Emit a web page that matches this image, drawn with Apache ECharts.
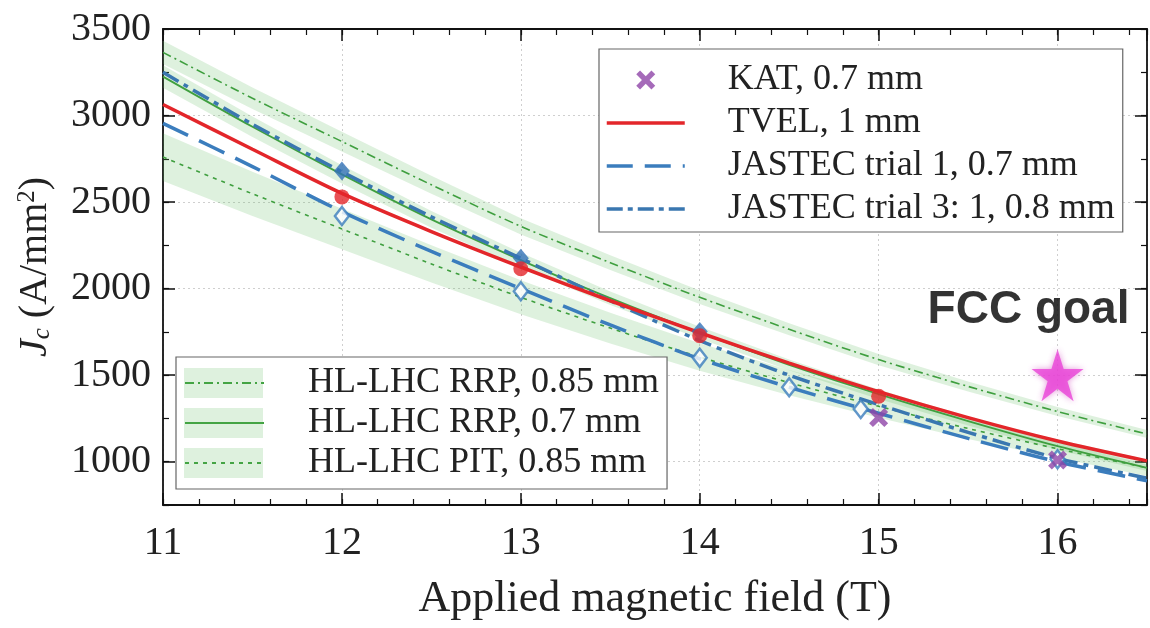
<!DOCTYPE html>
<html>
<head>
<meta charset="utf-8">
<script src="https://cdn.jsdelivr.net/npm/echarts@6.0.0/dist/echarts.min.js"></script>
<style>
html, body { margin: 0; padding: 0; background: #fff; }
#chart { width: 1150px; height: 628px; }
</style>
</head>
<body>
<div id="chart"></div>
<script>
// field values (T) where the fitted curves were read
var fields = [11, 11.5, 12, 12.5, 13, 13.5, 14, 14.5, 15, 15.5, 16, 16.5];

// HL-LHC reference curves and their bands (A/mm2)
var rrp085 = [3365, 3100, 2850, 2600, 2360, 2150, 1950, 1765, 1590, 1435, 1290, 1160];
var rrp085Low = [3298, 3038, 2793, 2548, 2313, 2107, 1911, 1730, 1558, 1406, 1264, 1137];
var rrp085High = [3432, 3162, 2907, 2652, 2407, 2193, 1989, 1800, 1622, 1464, 1316, 1183];

var rrp07 = [3225, 2935, 2660, 2400, 2165, 1945, 1745, 1560, 1390, 1235, 1090, 965];
var rrp07Low = [3160, 2876, 2607, 2352, 2122, 1906, 1710, 1529, 1362, 1210, 1068, 946];
var rrp07High = [3290, 2994, 2713, 2448, 2208, 1984, 1780, 1591, 1418, 1260, 1112, 984];

var pit085 = [2760, 2548, 2345, 2143, 1950, 1772, 1605, 1457, 1320, 1192, 1075, 965];
var pit085Low = [2622, 2420, 2228, 2036, 1852, 1683, 1525, 1384, 1254, 1132, 1021, 917];
var pit085High = [2898, 2676, 2462, 2250, 2048, 1861, 1685, 1530, 1386, 1252, 1129, 1013];

// conductor fits
var tvelFit = [3064, 2805, 2550, 2330, 2125, 1930, 1745, 1570, 1405, 1255, 1120, 1005];
var jastec1Fit = [2955, 2705, 2445, 2215, 2000, 1790, 1595, 1430, 1280, 1135, 1000, 890];
var jastec3Fit = [3250, 2950, 2675, 2415, 2175, 1930, 1700, 1500, 1330, 1170, 1020, 905];

// measured points [field, Jc]
var tvelPts = [[12, 2530], [13, 2115], [14, 1728], [15, 1378]];
var jastec1Pts = [[12, 2420], [13, 1985], [14, 1600], [14.5, 1430], [14.9, 1305], [16, 1015]];
var jastec3Pts = [[12, 2680], [13, 2175], [14, 1752]];
var katPts = [[15, 1255], [16, 1010]];
var fccGoal = [[16, 1500]];

var names = {
	kat: 'KAT, 0.7 mm',
	tvel: 'TVEL, 1 mm',
	j1: 'JASTEC trial 1, 0.7 mm',
	j3: 'JASTEC trial 3: 1, 0.8 mm',
	rrp085: 'HL-LHC RRP, 0.85 mm',
	rrp07: 'HL-LHC RRP, 0.7 mm',
	pit: 'HL-LHC PIT, 0.85 mm'
};

var serif = 'Liberation Serif';
var green = '#3f9f3f';
var bandColor = 'rgba(90,185,90,0.2)';
var blue = '#3b7dbd';
var blue3 = '#3a77b0';
var red = '#e3262a';
var purple = '#8f45a8';

var xMark = 'path://M0,2 L2,0 L5,3 L8,0 L10,2 L7,5 L10,8 L8,10 L5,7 L2,10 L0,8 L3,5 Z';
var star = 'path://M50,0 L61.2,34.6 L97.6,34.5 L68.1,55.9 L79.4,90.5 L50,69 L20.6,90.5 L31.9,55.9 L2.4,34.5 L38.8,34.6 Z';

function pairs(ys) {
	return fields.map(function (f, i) { return [f, ys[i]]; });
}

// shaded band between lo and hi, drawn as one polygon through the axes
function band(lo, hi) {
	return {
		type: 'custom', silent: true, z: 1, clip: true,
		data: [[fields[0], lo[0]]],
		encode: { x: 0, y: 1 },
		renderItem: function (params, api) {
			var pts = [];
			for (var i = 0; i < fields.length; i++) {
				pts.push(api.coord([fields[i], hi[i]]));
			}
			for (var j = fields.length - 1; j >= 0; j--) {
				pts.push(api.coord([fields[j], lo[j]]));
			}
			return { type: 'polygon', shape: { points: pts }, style: { fill: bandColor } };
		}
	};
}

function fitLine(name, ys, color, width, type) {
	return {
		name: name, type: 'line', data: pairs(ys), smooth: 0.3, symbol: 'none',
		lineStyle: { color: color, width: width, type: type }, itemStyle: { color: color }, z: 2
	};
}

var series = [];
series.push(band(rrp085Low, rrp085High));
series.push(band(rrp07Low, rrp07High));
series.push(band(pit085Low, pit085High));
series.push(fitLine(names.rrp085, rrp085, green, 1.6, [9, 4, 2, 4]));
series.push(fitLine(names.rrp07, rrp07, green, 1.8, 'solid'));
series.push(fitLine(names.pit, pit085, green, 1.6, [4, 5]));
series.push(fitLine(names.j3, jastec3Fit, blue3, 3.5, [18, 6, 5, 6]));
series.push(fitLine(names.j1, jastec1Fit, blue, 3.5, [28, 12]));
series.push(fitLine(names.tvel, tvelFit, red, 3.5, 'solid'));
series.push({
	name: 'jastec3 pts', type: 'scatter', data: jastec3Pts, symbol: 'diamond', symbolSize: [16, 19],
	itemStyle: { color: '#3372b8' }, z: 3
});
series.push({
	name: 'jastec1 pts', type: 'scatter', data: jastec1Pts, symbol: 'diamond', symbolSize: [14, 18],
	itemStyle: { color: '#fff', borderColor: blue, borderWidth: 2.5 }, z: 3
});
series.push({
	name: 'tvel pts', type: 'scatter', data: tvelPts, symbol: 'circle', symbolSize: 15,
	itemStyle: { color: red }, z: 4
});
series.push({
	name: names.kat, type: 'scatter', data: katPts, symbol: xMark, symbolSize: 19,
	itemStyle: { color: purple }, z: 4
});
series.push({
	name: 'FCC goal', type: 'scatter', data: fccGoal, symbol: star, symbolSize: 52,
	itemStyle: { color: '#ea44d8', shadowBlur: 6, shadowColor: 'rgba(200,40,180,0.6)' },
	label: {
		show: true, position: 'top', distance: 16, offset: [-29, 0], formatter: 'FCC goal',
		fontFamily: 'Liberation Sans', fontWeight: 'bold', fontSize: 46, color: '#000'
	},
	z: 5
});

var tickMain = { show: true, inside: true, length: 12, lineStyle: { color: '#111', width: 1.5 } };
var tickMinor = { show: true, inside: true, length: 6, lineStyle: { color: '#111', width: 1.2 } };
var frame = { show: true, onZero: false, lineStyle: { color: '#111', width: 1.8 } };
var gridLine = { show: true, lineStyle: { color: '#cfcfcf', width: 1, type: [2, 3] } };
var rect = { left: 163, right: 3, top: 29, bottom: 123 };
var noSymbol = { opacity: 0 };

var option = {
	animation: false,
	backgroundColor: '#fff',
	grid: [
		Object.assign({ containLabel: false }, rect),
		Object.assign({ containLabel: false }, rect)
	],
	xAxis: [{
		type: 'value', gridIndex: 0, position: 'bottom', min: 11, max: 16.5, interval: 1,
		axisLine: frame, axisTick: tickMain, splitLine: gridLine,
		axisLabel: {
			fontFamily: serif, fontSize: 40, color: '#222', margin: 18,
			formatter: function (v) { return v % 1 === 0 ? String(v) : ''; }
		},
		name: 'Applied magnetic field (T)', nameLocation: 'middle', nameGap: 72,
		nameTextStyle: { fontFamily: serif, fontSize: 44, color: '#222' }
	}, {
		type: 'value', gridIndex: 0, position: 'top', min: 11, max: 16.5, interval: 1,
		axisLine: frame, axisTick: tickMain, splitLine: { show: false }, axisLabel: { show: false }
	}, {
		type: 'value', gridIndex: 1, position: 'bottom', min: 11, max: 16.5, interval: 0.2,
		axisLine: { show: false }, axisTick: tickMinor, splitLine: { show: false }, axisLabel: { show: false }
	}, {
		type: 'value', gridIndex: 1, position: 'top', min: 11, max: 16.5, interval: 0.2,
		axisLine: { show: false }, axisTick: tickMinor, splitLine: { show: false }, axisLabel: { show: false }
	}],
	yAxis: [{
		type: 'value', gridIndex: 0, position: 'left', min: 750, max: 3500, splitNumber: 5,
		axisLine: frame, axisTick: tickMain, splitLine: gridLine,
		axisLabel: {
			fontFamily: serif, fontSize: 40, color: '#222', margin: 12,
			formatter: function (v) { return v % 500 === 0 ? String(v) : ''; }
		},
		name: '{j|J}{c|c}{t| (A/mm}{s|2}{t|)}', nameLocation: 'middle', nameGap: 108, nameRotate: 90,
		nameTextStyle: {
			fontFamily: serif, fontSize: 40, color: '#222',
			rich: {
				j: { fontFamily: serif, fontSize: 40, fontStyle: 'italic', color: '#222' },
				c: { fontFamily: serif, fontSize: 25, fontStyle: 'italic', color: '#222', verticalAlign: 'bottom' },
				t: { fontFamily: serif, fontSize: 40, color: '#222' },
				s: { fontFamily: serif, fontSize: 25, color: '#222', verticalAlign: 'top' }
			}
		}
	}, {
		type: 'value', gridIndex: 0, position: 'right', min: 750, max: 3500, splitNumber: 5,
		axisLine: frame, axisTick: tickMain, splitLine: { show: false }, axisLabel: { show: false }
	}, {
		type: 'value', gridIndex: 1, position: 'left', min: 750, max: 3500, interval: 250,
		axisLine: { show: false }, axisTick: tickMinor, splitLine: { show: false }, axisLabel: { show: false }
	}, {
		type: 'value', gridIndex: 1, position: 'right', min: 750, max: 3500, interval: 250,
		axisLine: { show: false }, axisTick: tickMinor, splitLine: { show: false }, axisLabel: { show: false }
	}],
	legend: [{
		orient: 'vertical', left: 599, top: 49,
		data: [
			{ name: names.kat },
			{ name: names.tvel, itemStyle: noSymbol, lineStyle: { color: red, width: 3.5 } },
			{ name: names.j1, itemStyle: noSymbol, lineStyle: { color: blue, width: 3.5, type: [26, 12] } },
			{ name: names.j3, itemStyle: noSymbol, lineStyle: { color: blue3, width: 3.5, type: [16, 5, 5, 5] } }
		],
		itemWidth: 78, itemHeight: 19, itemGap: 3,
		padding: [11, 8, 3, 6],
		backgroundColor: '#fff', borderColor: '#666', borderWidth: 1.2, borderRadius: 0,
		textStyle: { fontFamily: serif, fontSize: 36, color: '#222', lineHeight: 40, padding: [0, 0, 0, 38] },
		selectedMode: false
	}, {
		orient: 'vertical', left: 176, top: 357,
		data: [
			{ name: names.rrp085, itemStyle: noSymbol },
			{ name: names.rrp07, itemStyle: noSymbol },
			{ name: names.pit, itemStyle: noSymbol }
		],
		itemWidth: 79, itemHeight: 20, itemGap: 0,
		padding: [6, 8, 6, 8],
		backgroundColor: '#fff', borderColor: '#666', borderWidth: 1.2, borderRadius: 0,
		textStyle: { fontFamily: serif, fontSize: 36, color: '#222', lineHeight: 40, padding: [0, 0, 0, 39] },
		selectedMode: false
	}],
	graphic: [383, 423, 463].map(function (cy) {
		return {
			type: 'rect', z: 10, silent: true,
			shape: { x: 184, y: cy - 15, width: 79, height: 30 },
			style: { fill: bandColor }
		};
	}),
	series: series
};

var myChart = echarts.init(document.getElementById('chart'));
myChart.setOption(option);
</script>
</body>
</html>
